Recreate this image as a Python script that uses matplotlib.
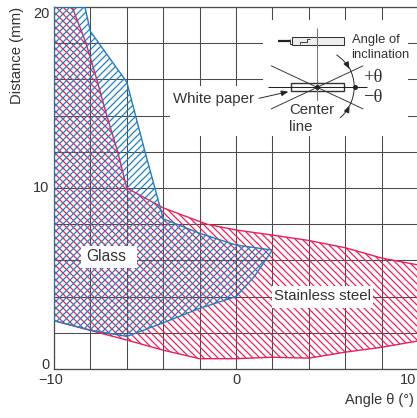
import matplotlib
matplotlib.use("Agg")
import matplotlib.pyplot as plt
from matplotlib.patches import Rectangle
from matplotlib.transforms import Affine2D, ScaledTranslation

W, H = 417, 418
DPI = 84  # hatch tile follows dpi, 84 with four strokes gives the 7px spacing of the original

plt.rcParams['font.family'] = ['Liberation Sans', 'DejaVu Sans']
plt.rcParams['hatch.linewidth'] = 1.05

RED = "#e8205a"
BLUE = "#1f7fc4"
GRID = "#4a4a4a"
TEXT = "#333333"

# outlines
steel_x = [-10, -9.0, -8.24, -7.65, -7.1, -6.5, -6, -4, -1.6, 0, 2, 4, 6, 8, 10,
           10, 8, 6, 4, 2, 0, -2, -4, -6, -8, -10]
steel_y = [20, 20, 18, 16, 14, 12, 10, 8.9, 8, 7.68, 7.4, 7.1, 6.7, 6.13, 5.75,
           1.55, 1.2, 0.93, 0.6, 0.65, 0.57, 0.57, 1.04, 1.6, 2.13, 2.67]
glass_x = [-10, -8.3, -8, -6, -5, -4.16, -4, -2, 0, 2, 1, 0, -2, -4, -6, -8, -10]
glass_y = [20, 20, 18.65, 15.85, 12, 8.9, 8.3, 7.5, 6.85, 6.57, 5.1, 4.0, 3.35, 2.55, 1.8, 2.15, 2.67]

x_grid = list(range(-10, 11, 2))
y_grid = list(range(0, 21, 2))
x_ticks = [-10, 0, 10]
x_labels = ["\u221210", "0", "10"]
y_ticks = [0, 10, 20]
y_labels = ["0", "10", "20"]

fig = plt.figure(figsize=(W / DPI, H / DPI), dpi=DPI)
ax = fig.add_axes([54 / W, 49 / H, 364 / W, 362 / H])
ax.set_xlim(-10, 10)
ax.set_ylim(0, 20)

for v in x_grid:
    ax.axvline(v, color=GRID, lw=0.9, zorder=1)
for v in y_grid:
    ax.axhline(v, color=GRID, lw=0.9, zorder=1)

ax.fill(steel_x, steel_y, fill=False, hatch="\\\\\\\\", edgecolor=RED, lw=1.2, zorder=2)
ax.fill(glass_x, glass_y, fill=False, hatch="////", edgecolor=BLUE, lw=1.2, zorder=3)

ax.set_xticks(x_ticks, x_labels, fontsize=12.4, color=TEXT)
ax.set_yticks(y_ticks, y_labels, fontsize=12.4, color=TEXT)
ax.tick_params(length=0, pad=3)


def nudge(lab, dx, dy):
    lab.set_transform(lab.get_transform() + ScaledTranslation(dx / DPI, -dy / DPI, fig.dpi_scale_trans))


ylabs = ax.get_yticklabels()
ylabs[0].set_va("bottom")
ylabs[2].set_va("top")
nudge(ylabs[0], -1, 3)
nudge(ylabs[1], -1, -2)
nudge(ylabs[2], -1, 0)
xlabs = ax.get_xticklabels()
xlabs[2].set_ha("right")
nudge(xlabs[0], -3, 0)
nudge(xlabs[2], -2, 0)

ax.set_ylabel("Distance (mm)", fontsize=12.8, color=TEXT)
ax.yaxis.set_label_coords(-30 / 364, 1 - 48 / 362)
ax.set_xlabel("Angle \u03b8 (\u00b0)", fontsize=12.4, color=TEXT, ha="right")
ax.xaxis.set_label_coords(360 / 364, -24 / 362)
for s in ax.spines.values():
    s.set_color(GRID)
    s.set_linewidth(1.1)

# everything below is placed in image pixels, y going down
px = Affine2D().scale(1, -1).translate(0, H)


def box(x0, y0, x1, y1, fc="white", ec="none", lw=0, z=4):
    ax.add_patch(Rectangle((x0, y0), x1 - x0, y1 - y0, transform=px, fc=fc, ec=ec, lw=lw,
                           zorder=z, clip_on=False))


def seg(xs, ys, color="#333333", lw=0.8, z=5):
    ax.plot(xs, ys, transform=px, color=color, lw=lw, zorder=z, clip_on=False, solid_capstyle="butt")


def label(x, y, s, size=12.9, ha="center", **kw):
    ax.text(x, y, s, transform=px, fontsize=size, ha=ha, va="center", color=TEXT, zorder=7, **kw)


def arrow(x0, y0, x1, y1, rad=0.0, style="-|>,head_length=0.5,head_width=0.2"):
    ax.annotate("", xy=(x1, y1), xytext=(x0, y0), xycoords=px, textcoords=px, zorder=6,
                annotation_clip=False,
                arrowprops=dict(arrowstyle=style, color="#222222", lw=0.8,
                                shrinkA=0, shrinkB=0, connectionstyle=f"arc3,rad={rad}"))


# white panels behind inset and labels
box(263, 20, 408, 136)
box(170, 86, 263, 136)
box(81, 246, 137, 268)
box(272, 286, 373, 308)

label(106.5, 256.5, "Glass", size=13.4)
label(322.5, 296.5, "Stainless steel")
label(213.5, 99, "White paper")
label(352, 40, "Angle of", size=11.2, ha="left")
label(351.5, 55, "inclination", size=11.2, ha="left")
label(289.5, 110, "Center", ha="left")
label(289.5, 127, "line", ha="left")
label(363, 77, "+\u03b8", size=16, ha="left", family=["Liberation Serif"])
label(363, 98, "\u2212\u03b8", size=16, ha="left", family=["Liberation Serif"])

# sensor head
seg([317, 317], [28, 100], color="#777777", lw=0.9)
box(292.3, 37.3, 344, 45, fc="#eeeeee", ec="#333333", lw=0.9, z=5)
seg([277.7, 290], [41, 41], color="#222222", lw=1.9, z=6)
seg([290, 290, 292.3], [38.5, 44, 44], lw=0.8, z=6)
seg([299.5, 299.5, 306.5, 306.5, 310], [44, 41.5, 41.5, 39, 39], lw=0.8, z=6)
seg([317, 317], [36, 46], color="#777777", lw=0.9, z=6)

# paper and angle lines
box(290.7, 83.3, 344, 91.3, fc="white", ec="#333333", lw=1.2, z=5)
seg([267.7, 366.7], [87.3, 87.3], color="#222222", lw=0.9, z=6)
seg([271, 363.3], [65.7, 109], lw=0.8, z=6)
seg([271, 363.3], [109, 65.7], lw=0.8, z=6)
seg([317, 317], [83, 100], color="#777777", lw=0.9, z=6)
ax.plot([317, 354.8], [87.3, 87.3], transform=px, ls="none", marker="o", ms=3.2, color="#222222",
        zorder=6, clip_on=False)

arrow(259, 98.3, 288.3, 91.7)
arrow(336.7, 55, 349.5, 69, rad=-0.12)
arrow(340.2, 117.7, 349.5, 105.5, rad=0.12)
arrow(349.5, 68, 349.5, 106, rad=-0.25, style="-")

fig.savefig("out.png", dpi=DPI)
